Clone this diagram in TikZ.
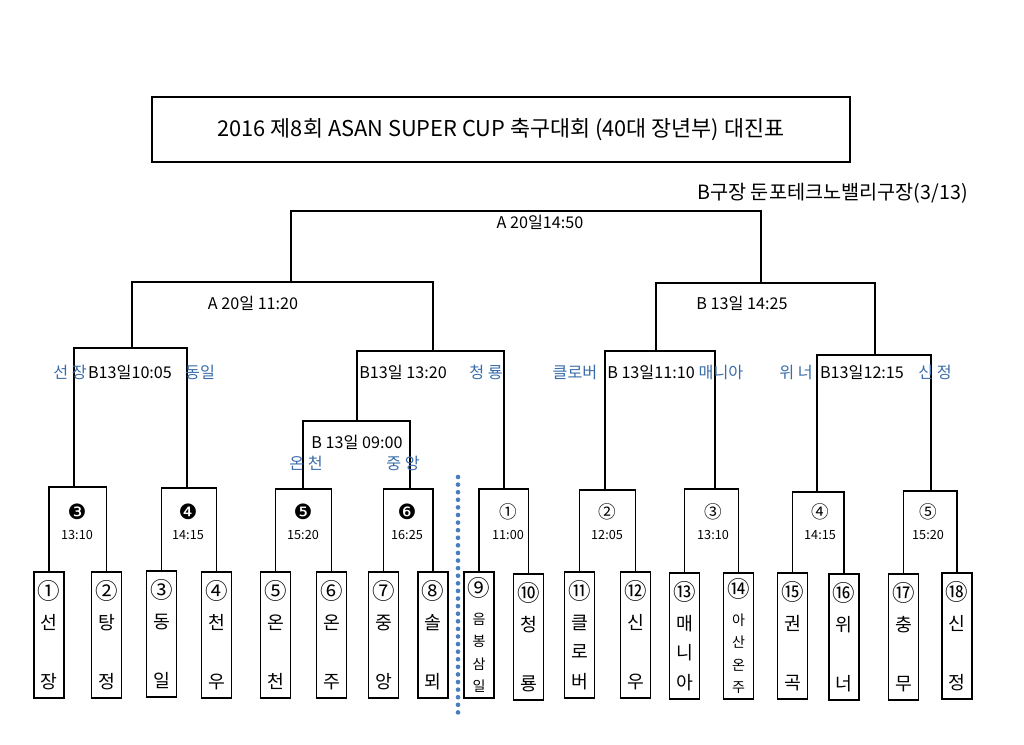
\documentclass[tikz,border=0pt]{standalone}
\usepackage{fontspec}
\setmainfont{Noto Sans CJK KR}
\newfontfamily\dingfont{DejaVu Sans}
\usepackage{tikz}
\usetikzlibrary{positioning,calc}
\definecolor{namecol}{RGB}{58,108,170}
\definecolor{dotcol}{RGB}{74,124,192}
\newcommand\seed[1]{{\fontsize{16}{16}\selectfont #1}}

\begin{document}
\begin{tikzpicture}[
  x=0.025cm, y=-0.025cm,
  link/.style={line width=0.9pt},
  team/.style={draw, line width=1.2pt, minimum width=0.75cm, minimum height=3.15cm, inner sep=0pt, align=center, font=\fontsize{13}{21}\selectfont},
  longteam/.style={team, font=\fontsize{10}{16}\selectfont},
  lab/.style={font=\fontsize{11.5}{13}\selectfont, inner sep=0pt},
  teamname/.style={lab, text=namecol},
  matchno/.style={font=\fontsize{12.5}{13}\selectfont, inner sep=0pt},
  darkno/.style={font=\dingfont\fontsize{15}{16}\selectfont, inner sep=0pt},
  matchtime/.style={font=\fontsize{9}{10}\selectfont, inner sep=0pt}
]
  \useasboundingbox (0,0) rectangle (1024,744);

  % Title and venue
  \node[draw, line width=1pt, minimum width=17.45cm, minimum height=1.625cm, font=\fontsize{15.5}{17}\selectfont] (title) at (501,129.5) {2016 제8회 ASAN SUPER CUP 축구대회 (40대 장년부) 대진표};
  \node[anchor=east, inner sep=0pt, font=\fontsize{14}{16}\selectfont] (venue) at (968,193) {B구장 둔포테크노밸리구장(3/13)};

  % Teams
  \node[team] (t1) at (49,635) {\seed{①}\\선\\[21pt]장};
  \node[team] (t2) at (106.5,635) {\seed{②}\\탕\\[21pt]정};
  \node[team] (t3) at (161.5,634) {\seed{③}\\동\\[21pt]일};
  \node[team] (t4) at (216.5,635) {\seed{④}\\천\\[21pt]우};
  \node[team] (t5) at (275.5,635) {\seed{⑤}\\온\\[21pt]천};
  \node[team] (t6) at (331.5,635) {\seed{⑥}\\온\\[21pt]주};
  \node[team] (t7) at (383.5,635) {\seed{⑦}\\중\\[21pt]앙};
  \node[team] (t8) at (433,635) {\seed{⑧}\\솔\\[21pt]뫼};
  \node[longteam] (t9) at (479,635) {\seed{⑨}\\[4pt]음\\봉\\삼\\일};
  \node[team] (t10) at (528.5,637) {\seed{⑩}\\청\\[21pt]룡};
  \node[team] (t11) at (579.5,635) {\seed{⑪}\\클\\로\\버};
  \node[team] (t12) at (635.5,635) {\seed{⑫}\\신\\[21pt]우};
  \node[team] (t13) at (684.5,636) {\seed{⑬}\\매\\니\\아};
  \node[longteam] (t14) at (738.5,636) {\seed{⑭}\\[4pt]아\\산\\온\\주};
  \node[team] (t15) at (792.5,636) {\seed{⑮}\\권\\[21pt]곡};
  \node[team] (t16) at (844,637) {\seed{⑯}\\위\\[21pt]너};
  \node[team] (t17) at (903.5,637) {\seed{⑰}\\충\\[21pt]무};
  \node[team] (t18) at (957,636) {\seed{⑱}\\신\\[21pt]정};

  % Junctions
  \coordinate (ma3) at (74,487);
  \coordinate (ma4) at (187,488);
  \coordinate (ma5) at (303,489);
  \coordinate (ma6) at (410,489);
  \coordinate (mb1) at (504,489);
  \coordinate (mb2) at (605,490);
  \coordinate (mb3) at (715,489);
  \coordinate (mb4) at (817,492);
  \coordinate (mb5) at (931,491);
  \coordinate (r1) at (357,421);
  \coordinate (q1) at (132,348);
  \coordinate (q2) at (433,351);
  \coordinate (q3) at (656,351);
  \coordinate (q4) at (875,355);
  \coordinate (s1) at (291,282);
  \coordinate (s2) at (761,283);
  \coordinate (fin) at (525,211);

  % First round
  \draw[link] (t1.north) |- (ma3) -| (t2.north);
  \draw[link] (t3.north) |- (ma4) -| (t4.north);
  \draw[link] (t5.north) |- (ma5) -| (t6.north);
  \draw[link] (t7.north) |- (ma6) -| (t8.north);
  \draw[link] (t9.north) |- (mb1) -| (t10.north);
  \draw[link] (t11.north) |- (mb2) -| (t12.north);
  \draw[link] (t13.north) |- (mb3) -| (t14.north);
  \draw[link] (t15.north) |- (mb4) -| (t16.north);
  \draw[link] (t17.north) |- (mb5) -| (t18.north);

  % Later rounds
  \draw[link] (ma5) |- (r1) -| (ma6);
  \draw[link] (ma3) |- (q1) -| (ma4);
  \draw[link] (r1) |- (q2) -| (mb1);
  \draw[link] (mb2) |- (q3) -| (mb3);
  \draw[link] (mb4) |- (q4) -| (mb5);
  \draw[link] (q1) |- (s1) -| (q2);
  \draw[link] (q3) |- (s2) -| (q4);
  \draw[link] (s1) |- (fin) -| (s2);

  % Match numbers and times
  \node[darkno] (na3) at (77,512) {❸};
  \node[matchtime] (ta3) at (77,535) {13:10};
  \node[darkno] (na4) at (188,512) {❹};
  \node[matchtime] (ta4) at (188,535) {14:15};
  \node[darkno] (na5) at (303,512) {❺};
  \node[matchtime] (ta5) at (303,535) {15:20};
  \node[darkno] (na6) at (407,512) {❻};
  \node[matchtime] (ta6) at (407,535) {16:25};
  \node[matchno] (nb1) at (508,512) {①};
  \node[matchtime] (tb1) at (508,535) {11:00};
  \node[matchno] (nb2) at (607,512) {②};
  \node[matchtime] (tb2) at (607,535) {12:05};
  \node[matchno] (nb3) at (713,512) {③};
  \node[matchtime] (tb3) at (713,535) {13:10};
  \node[matchno] (nb4) at (820,512) {④};
  \node[matchtime] (tb4) at (820,535) {14:15};
  \node[matchno] (nb5) at (928,512) {⑤};
  \node[matchtime] (tb5) at (928,535) {15:20};

  % Round labels
  \node[lab] (lfin) at (540,222) {A 20일14:50};
  \node[lab] (ls1) at (253,303) {A 20일 11:20};
  \node[lab] (ls2) at (742,303) {B 13일 14:25};
  \node[lab] (lq1) at (130,372) {B13일10:05};
  \node[lab] (lq2) at (403,372) {B13일 13:20};
  \node[lab] (lq3) at (651,372) {B 13일11:10};
  \node[lab] (lq4) at (862,372) {B13일12:15};
  \node[lab] (lr1) at (357,442) {B 13일 09:00};

  % Winners
  \node[teamname] (w1) at (70,372) {선 장};
  \node[teamname] (w2) at (200,372) {동일};
  \node[teamname] (w3) at (486,372) {청 룡};
  \node[teamname] (w4) at (575,372) {클로버};
  \node[teamname] (w5) at (721,372) {매니아};
  \node[teamname] (w6) at (796,372) {위 너};
  \node[teamname] (w7) at (935,372) {신 정};
  \node[teamname] (w8) at (306,463) {온 천};
  \node[teamname] (w9) at (403,463) {중 앙};

  % Divider
  \coordinate (dtop) at (458,477);
  \coordinate (dbot) at (458,718);
  \draw[dotcol, line width=3.3pt, line cap=round, dash pattern=on 0pt off 5.4pt] (dtop) -- (dbot);
\end{tikzpicture}
\end{document}
